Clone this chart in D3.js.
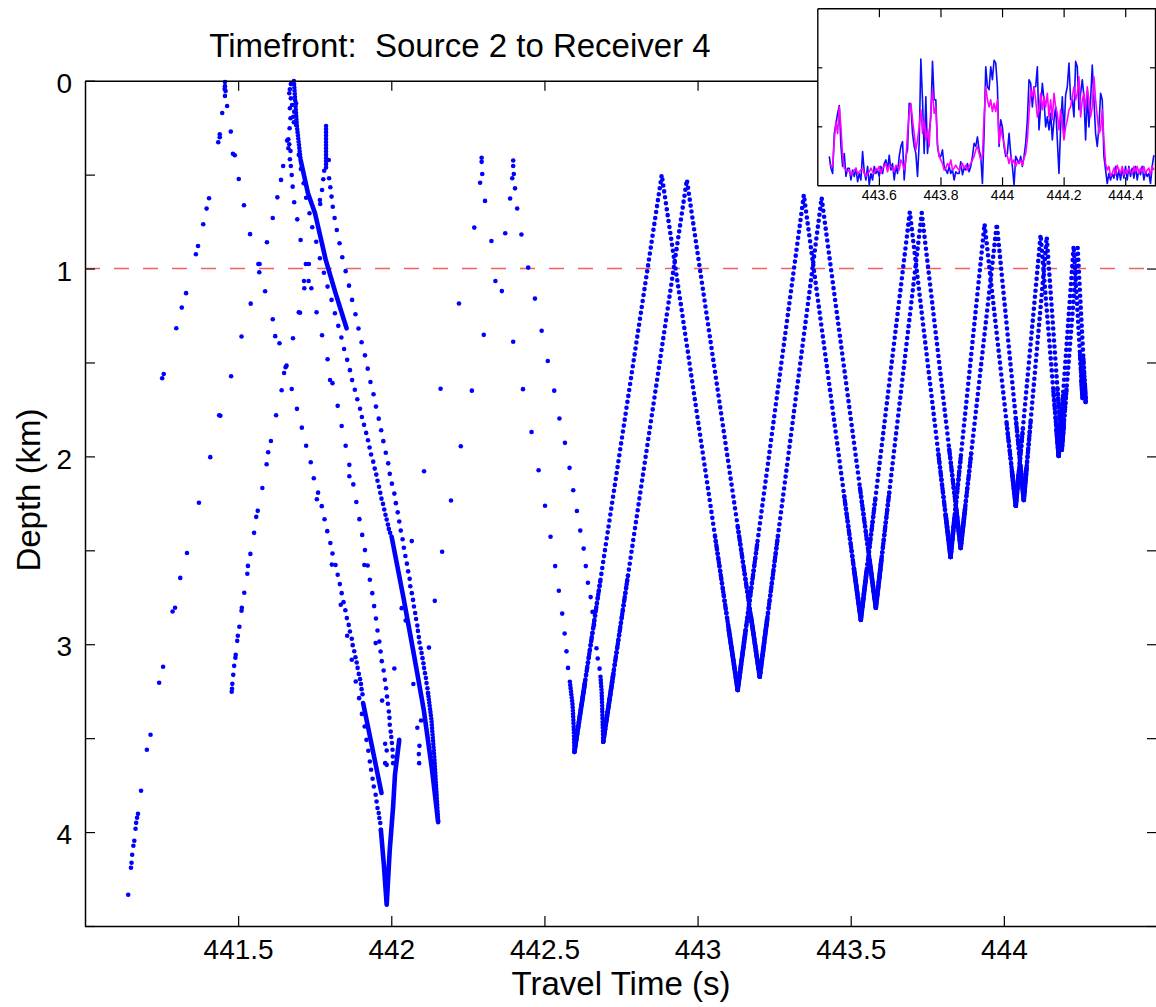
<!DOCTYPE html>
<html>
<head>
<meta charset="utf-8">
<script src="https://cdnjs.cloudflare.com/ajax/libs/d3/7.8.5/d3.min.js"></script>
<style>
  body { margin: 0; background: #fff; }
  text { font-family: "Liberation Sans", Arial, Helvetica, sans-serif; }
</style>
</head>
<body>
<div id="chart"></div>
<script>
// ---------------- data (travel time s, depth km) ----------------
const xTickVals = [441.5, 442, 442.5, 443, 443.5, 444];
const yTickVals = [0, 0.5, 1, 1.5, 2, 2.5, 3, 3.5, 4, 4.5];
const cutDepth = 1;

// isolated arrivals
const topLeftDots = [[441.457,0.007],[441.457,0.029],[441.456,0.044],[441.459,0.055],[441.457,0.081],[441.464,0.135],[441.448,0.172],[441.476,0.271],[441.440,0.285],[441.440,0.301],[441.435,0.328],[441.483,0.389],[441.489,0.397],[441.502,0.523],[441.405,0.626],[441.397,0.681],[441.519,0.663],[441.386,0.764],[441.539,0.817],[441.369,0.880],[441.362,0.924],[441.566,0.976],[441.570,0.976],[441.569,1.020],[441.330,1.131],[441.316,1.208],[441.588,1.121],[441.298,1.318],[441.613,1.270],[441.621,1.360],[441.635,1.398],[441.257,1.561],[441.252,1.584],[441.658,1.517],[441.655,1.525],[441.650,1.556],[441.675,1.641],[441.642,1.648],[441.692,1.747],[441.624,1.781],[441.708,1.847],[441.607,1.918],[441.722,1.943],[441.598,1.978],[441.593,2.042],[441.737,2.031],[441.579,2.168],[441.747,2.116]];
const branchL3 = [[441.672,0.018],[441.647,0.454],[441.640,0.528],[441.628,0.621],[441.613,0.731],[441.594,0.860],[441.541,1.187],[441.511,1.362],[441.477,1.573],[441.438,1.781],[441.442,1.784],[441.409,2.004],[441.372,2.247],[441.333,2.514],[441.311,2.647],[441.294,2.806],[441.286,2.826],[441.255,3.120],[441.242,3.205],[441.214,3.482],[441.202,3.562],[441.183,3.780],[441.173,3.903],[441.170,3.924],[441.167,3.951],[441.165,3.982],[441.161,4.046],[441.158,4.073],[441.154,4.121],[441.152,4.163],[441.150,4.190],[441.141,4.334]];
const branchG = [[441.564,2.290],[441.559,2.322],[441.552,2.407],[441.540,2.519],[441.532,2.583],[441.530,2.625],[441.520,2.726],[441.512,2.806],[441.511,2.822],[441.504,2.907],[441.499,2.955],[441.497,2.982],[441.492,3.056],[441.491,3.072],[441.487,3.115],[441.484,3.163],[441.481,3.211],[441.480,3.237],[441.479,3.253]];
const topCluster = [[441.669,0.046],[441.667,0.067],[441.672,0.094],[441.676,0.129],[441.669,0.147],[441.689,0.120],[441.683,0.165],[441.680,0.192],[441.671,0.200],[441.682,0.221],[441.668,0.253],[441.664,0.312],[441.660,0.319],[441.667,0.338],[441.664,0.360],[441.671,0.374],[441.669,0.418],[441.672,0.454],[441.675,0.502],[441.678,0.564],[441.683,0.647],[441.693,0.738],[441.704,0.848],[441.721,0.976],[441.731,0.976],[441.715,1.066],[441.730,1.066],[441.716,1.105],[441.739,1.105],[441.698,1.233],[441.679,1.371],[441.756,1.233],[441.774,1.355],[441.792,1.483],[441.702,1.235]];
const branchD = [[441.689,0.236],[441.698,0.395],[441.705,0.470],[441.714,0.546],[441.722,0.623],[441.733,0.706],[441.742,0.780],[441.755,0.857],[441.767,0.945],[441.780,1.022],[441.792,1.096],[441.805,1.167],[441.816,1.238],[441.827,1.305],[441.837,1.367],[441.846,1.428],[441.856,1.486],[441.865,1.541],[441.872,1.594],[441.881,1.645],[441.889,1.696],[441.898,1.746],[441.904,1.790],[441.911,1.832],[441.918,1.875],[441.924,1.914],[441.929,1.953],[441.934,1.990],[441.941,2.028],[441.946,2.065],[441.951,2.097],[441.955,2.130],[441.960,2.162],[441.964,2.194],[441.968,2.225],[441.973,2.253],[441.977,2.283],[441.981,2.311],[441.985,2.336],[441.989,2.363],[441.992,2.386],[441.996,2.407]];
const branchB = [[441.796,0.422],[441.797,0.519],[441.801,0.567],[441.805,0.617],[441.809,0.671],[441.815,0.731],[441.822,0.795],[441.831,0.865],[441.840,0.940],[441.851,1.014],[441.862,1.091],[441.872,1.167],[441.883,1.243],[441.893,1.319],[441.903,1.392],[441.914,1.462],[441.923,1.533],[441.932,1.604],[441.942,1.669],[441.950,1.735],[441.959,1.799],[441.967,1.861],[441.974,1.919],[441.982,1.981],[441.990,2.037],[441.995,2.093],[442.002,2.145],[442.010,2.198],[442.015,2.249],[442.021,2.298],[442.026,2.347],[442.031,2.395],[442.037,2.441],[442.041,2.486],[442.046,2.530],[442.051,2.571],[442.055,2.612],[442.060,2.652],[442.062,2.691],[442.067,2.728],[442.071,2.764],[442.074,2.799],[442.078,2.834],[442.081,2.866],[442.085,2.900],[442.087,2.929],[442.090,2.962],[442.092,2.991],[442.096,3.021],[442.099,3.047],[442.102,3.074],[442.105,3.101],[442.107,3.127],[442.110,3.154],[442.113,3.180],[442.115,3.207],[442.118,3.234],[442.120,3.260],[441.781,0.479],[441.778,0.525],[441.774,0.582],[441.767,0.635],[441.768,0.656]];
const branchE = [[441.800,1.593],[441.808,1.610],[441.825,1.731],[441.838,1.838],[441.851,1.943],[441.863,2.045],[441.863,2.106],[441.876,2.149],[441.886,2.243],[441.896,2.334],[441.905,2.418],[441.914,2.499],[441.912,2.578],[441.923,2.581],[441.930,2.657],[441.938,2.728],[441.944,2.797],[441.950,2.863],[441.955,2.927],[441.949,2.994],[441.961,2.986],[441.965,3.039],[441.969,3.090],[441.975,3.140],[441.979,3.189],[441.983,3.234],[441.970,3.300],[441.986,3.278],[441.989,3.317],[441.992,3.358],[441.994,3.392],[441.995,3.429],[441.998,3.465],[442.000,3.494],[442.002,3.526],[442.004,3.562],[442.005,3.598],[442.006,3.633]];
const branchF = [[441.761,2.193],[441.757,2.228],[441.773,2.265],[441.782,2.335],[441.791,2.398],[441.801,2.461],[441.808,2.517],[441.806,2.576],[441.818,2.578],[441.825,2.630],[441.832,2.680],[441.838,2.728],[441.835,2.790],[441.844,2.776],[441.850,2.819],[441.855,2.861],[441.861,2.897],[441.865,2.932],[441.856,2.955],[441.871,2.971],[441.874,3.005],[441.879,3.037],[441.871,3.083],[441.883,3.069],[441.887,3.097],[441.890,3.126],[441.894,3.158],[441.884,3.198],[441.898,3.186],[441.901,3.212],[441.903,3.239],[441.895,3.287],[441.906,3.266]];
const vLeftArm = [[441.904,3.371],[441.913,3.438],[441.919,3.509],[441.925,3.567],[441.930,3.624],[441.934,3.668],[441.939,3.716],[441.943,3.757],[441.949,3.801],[441.952,3.837],[441.955,3.872],[441.959,3.899],[441.961,3.925],[441.964,3.952],[441.966,3.988]];
const strayDots = [[442.090,3.585],[442.091,3.633],[442.092,3.541],[442.085,3.445],[442.097,3.406],[442.123,3.018],[442.142,2.769],[442.166,2.508],[442.195,2.235],[442.107,2.079],[442.072,3.212],[442.067,2.451],[442.047,2.874],[442.034,2.808],[442.010,3.129],[441.980,3.530],[441.985,3.566],[441.985,3.642],[441.980,3.633]];
const peakLeft = [[442.295,0.410],[442.295,0.432],[442.297,0.497],[442.290,0.543],[442.306,0.640],[442.271,0.782],[442.327,0.853],[442.340,1.066],[442.361,1.120],[442.221,1.186],[442.302,1.353],[442.398,1.390],[442.161,1.640],[442.263,1.650],[442.227,1.946]];
const peakRight = [[442.398,0.425],[442.398,0.454],[442.400,0.497],[442.395,0.519],[442.404,0.573],[442.388,0.627],[442.411,0.680],[442.372,0.812],[442.425,0.819],[442.447,0.995],[442.469,1.160],[442.491,1.331],[442.430,1.642],[442.511,1.492],[442.532,1.650],[442.549,1.798],[442.458,1.870],[442.567,1.928],[442.582,2.061],[442.481,2.074],[442.594,2.180],[442.606,2.291],[442.502,2.263],[442.617,2.395],[442.520,2.428],[442.628,2.491],[442.635,2.584],[442.535,2.584],[442.642,2.673],[442.547,2.715],[442.651,2.749],[442.657,2.828],[442.558,2.837],[442.662,2.897],[442.566,2.943],[442.670,3.021],[442.572,3.038],[442.674,3.076],[442.577,3.126],[442.680,3.130]];

// dense runs where the dots merge into a line
const solidRuns = [
  [[441.704,0.422],[441.728,0.599],[441.751,0.706],[441.786,0.954],[441.818,1.131],[441.854,1.318]],
  [[442.001,2.427],[442.039,2.746],[442.074,3.056],[442.106,3.349],[442.133,3.668],[442.153,3.947]],
  [[441.908,3.313],[441.968,3.792]],
  [[441.966,3.988],[441.976,4.179],[441.985,4.387],[441.995,4.094],[442.006,3.864],[442.012,3.695],[442.026,3.509]]
];
const closeRuns = [
  [[441.682,0.002],[441.692,0.245],[441.704,0.422]],
  [[441.787,0.241],[441.787,0.475]],
  [[442.120,3.260],[442.131,3.402],[442.141,3.615],[442.149,3.828],[442.153,3.947]],
  [[442.583,3.200],[442.592,3.325],[442.596,3.456],[442.598,3.573]],
  [[442.683,3.173],[442.687,3.259],[442.692,3.519]]
];
// the two zig-zag timefront branches (turning points)
const zigzagA = [[442.598,3.573],[442.883,0.502],[443.131,3.243],[443.347,0.608],[443.533,2.870],[443.693,0.699],[443.826,2.535],[443.937,0.763],[444.039,2.263],[444.120,0.821],[444.179,1.997],[444.228,0.880],[444.257,1.689]];
const zigzagB = [[442.692,3.519],[442.965,0.528],[443.203,3.173],[443.405,0.624],[443.582,2.806],[443.732,0.704],[443.859,2.487],[443.977,0.763],[444.065,2.232],[444.140,0.832],[444.189,1.965],[444.241,0.890],[444.267,1.710]];

// inset: arrival intensity, sampled evenly from insetStart to insetEnd
const insetStart = 443.439, insetEnd = 444.493;
const insetXTicks = [443.6, 443.8, 444, 444.2, 444.4];
const insetYTicks = [1, 2];
const insetBlue = [.49,.29,.20,.88,1.05,1.22,1.35,.66,.32,.54,
  .15,.29,.29,.09,.26,.15,.29,.06,.20,.09,
  .57,.23,.09,.32,.01,.20,.09,.32,.20,.26,
  .15,.32,.20,.37,.43,.26,.51,.26,.37,.09,
  .32,.20,.49,.66,.74,.09,.49,.60,1.39,1.36,
  .88,.66,.54,.15,.71,2.14,1.45,.54,1.50,.54,
  .88,1.16,2.10,1.45,1.45,.66,.49,.49,.60,.32,
  .26,.20,.32,.20,.26,.09,.23,.20,.20,.40,
  .18,.29,.26,.37,.23,.32,.49,.71,.66,.82,
  .60,.49,.03,.88,2.01,1.67,1.62,2.01,1.79,2.12,
  2.07,1.67,.66,1.11,.99,.66,.49,.54,.88,.54,
  .32,0,.49,.43,.37,.49,.32,.49,.71,1.11,
  1.79,1.73,1.33,1.67,1.67,2.01,.94,1.33,1.73,1.45,
  .99,1.16,.94,1.22,.77,1.11,1.33,.77,.20,.99,
  1.50,.88,1.53,1.67,2.07,1.45,1.45,1.16,2.10,2.01,
  1.28,1.56,1.79,1.50,.77,1.56,.99,1.45,2.04,1.45,
  .88,.66,.99,1.56,1.45,.49,.26,.03,.20,.09,
  .20,.12,.32,.09,.26,.09,.29,.12,.32,.09,
  .32,.15,.29,.12,.32,.09,.26,.18,.32,.09,
  .23,.15,.20,.03,.32,.51];
const insetMagenta = [.37,.34,.32,.77,1.08,.88,1.33,.99,.49,.29,
  .26,.23,.26,.18,.20,.26,.29,.20,.23,.26,
  .29,.20,.15,.20,.23,.29,.23,.20,.29,.26,
  .32,.20,.29,.32,.37,.23,.34,.32,.29,.23,
  .34,.32,.26,.43,.37,.26,.43,.88,1.22,1.39,
  1.11,.88,.60,.77,.99,1.28,.88,1.11,.77,.94,
  .66,1.28,1.62,1.22,1.33,.71,.49,.43,.37,.26,
  .29,.37,.32,.43,.26,.29,.34,.29,.26,.32,
  .37,.29,.34,.26,.32,.37,.43,.49,.60,.66,
  .54,.43,.49,1.16,1.67,1.45,1.33,1.45,1.25,1.39,
  1.25,1.45,.71,.99,.82,.71,.54,.49,.37,.49,
  .37,.43,.32,.40,.37,.43,.34,.46,.54,.77,
  1.22,1.62,1.50,1.67,1.45,1.16,1.28,1.56,1.28,1.50,
  1.33,1.56,1.16,1.45,1.11,1.56,1.33,1.22,.94,1.28,
  1.05,.77,.99,1.11,1.28,1.33,1.50,1.67,1.45,1.56,
  1.84,1.16,1.45,1.56,1.28,1.67,1.45,1.16,1.33,1.84,
  1.45,1.16,.88,.94,1.28,.77,.37,.26,.32,.15,
  .20,.29,.18,.34,.26,.20,.32,.18,.26,.20,
  .29,.23,.20,.32,.23,.32,.20,.29,.23,.32,
  .20,.26,.29,.18,.32,.26];

// ---------------- drawing ----------------
const W = 1156, H = 1007;
const blue = "#0000ff";
const dotR = 2.3;

const svg = d3.select("#chart").append("svg")
  .attr("width", W).attr("height", H)
  .style("background", "#fff");

const x = d3.scaleLinear().domain([441, 444.5]).range([85, 1157]);
const y = d3.scaleLinear().domain([0, 4.5]).range([80.7, 926]);

const line = d3.line().x(d => x(d[0])).y(d => y(d[1]));

// red dashed reference depth
svg.append("line")
  .attr("x1", x(441)).attr("x2", x(444.5))
  .attr("y1", y(cutDepth)).attr("y2", y(cutDepth))
  .attr("stroke", "#f06262").attr("stroke-width", 1.6)
  .attr("stroke-dasharray", "15,14");

const marks = svg.append("g");

// zig-zags: loose dots along the arms, tighter near each trough
function nearTrough(pts, frac) {
  const out = [];
  for (let i = 0; i < pts.length - 1; i++) {
    const a = pts[i], b = pts[i + 1];
    const deep = a[1] > b[1] ? a : b, shallow = a[1] > b[1] ? b : a;
    out.push([deep, [deep[0] + (shallow[0] - deep[0]) * frac, deep[1] + (shallow[1] - deep[1]) * frac]]);
  }
  return out;
}
[zigzagA, zigzagB].forEach(z => {
  marks.append("path").attr("d", line(z))
    .attr("fill", "none").attr("stroke", blue).attr("stroke-width", 2 * dotR)
    .attr("stroke-linecap", "round").attr("stroke-dasharray", "0,6");
  nearTrough(z, 0.3).forEach(seg => marks.append("path").attr("d", line(seg))
    .attr("fill", "none").attr("stroke", blue).attr("stroke-width", 2 * dotR)
    .attr("stroke-linecap", "round").attr("stroke-dasharray", "0,4.3"));
  nearTrough(z, 0.12).forEach(seg => marks.append("path").attr("d", line(seg))
    .attr("fill", "none").attr("stroke", blue).attr("stroke-width", 2 * dotR)
    .attr("stroke-linecap", "round"));
});

closeRuns.forEach(r => marks.append("path").attr("d", line(r))
  .attr("fill", "none").attr("stroke", blue).attr("stroke-width", 2 * dotR)
  .attr("stroke-linecap", "round").attr("stroke-dasharray", "0,3.2"));

solidRuns.forEach(r => marks.append("path").attr("d", line(r))
  .attr("fill", "none").attr("stroke", blue).attr("stroke-width", 2 * dotR)
  .attr("stroke-linecap", "round").attr("stroke-linejoin", "round"));

const allDots = [].concat(topLeftDots, branchL3, branchG, topCluster, branchD,
  branchB, branchE, branchF, vLeftArm, strayDots, peakLeft, peakRight);
marks.selectAll("circle.dot").data(allDots).join("circle")
  .attr("class", "dot")
  .attr("cx", d => x(d[0])).attr("cy", d => y(d[1]))
  .attr("r", dotR).attr("fill", blue);

// axes (ticks point inwards, box on all four sides)
const fmtX = d => String(d);
const fmtY = d => Number.isInteger(d) ? d : "";
const gx = svg.append("g").attr("transform", `translate(0,${y(4.5)})`)
  .call(d3.axisBottom(x).tickValues(xTickVals).tickSize(-10).tickSizeOuter(0).tickPadding(13).tickFormat(fmtX));
const gxt = svg.append("g").attr("transform", `translate(0,${y(0)})`)
  .call(d3.axisTop(x).tickValues(xTickVals).tickSize(-10).tickSizeOuter(0).tickFormat(""));
const gy = svg.append("g").attr("transform", `translate(${x(441)},0)`)
  .call(d3.axisLeft(y).tickValues(yTickVals).tickSize(-10).tickSizeOuter(0).tickPadding(13).tickFormat(fmtY));
const gyr = svg.append("g").attr("transform", `translate(${x(444.5)},0)`)
  .call(d3.axisRight(y).tickValues(yTickVals).tickSize(-10).tickSizeOuter(0).tickFormat(""));
[gx, gxt, gy, gyr].forEach(g => {
  g.select(".domain").attr("stroke", "#000").attr("stroke-width", 1.5);
  g.selectAll(".tick line").attr("stroke", "#000").attr("stroke-width", 1.2);
  g.selectAll(".tick text").attr("fill", "#000").style("font-size", "28px")
    .style("font-family", "'Liberation Sans', Arial, sans-serif");
});
gy.selectAll(".tick text").attr("dy", "0.42em");

svg.append("text").attr("x", 460).attr("y", 57).attr("text-anchor", "middle")
  .style("font-size", "33px").style("white-space", "pre")
  .text("Timefront:  Source 2 to Receiver 4");
svg.append("text").attr("x", 621).attr("y", 995).attr("text-anchor", "middle")
  .style("font-size", "33px").text("Travel Time (s)");
svg.append("text").attr("transform", "translate(40,490) rotate(-90)")
  .attr("text-anchor", "middle").style("font-size", "33px").text("Depth (km)");

// ---------------- inset ----------------
const ix = d3.scaleLinear().domain([443.4, 444.5]).range([817.3, 1156]);
const iy = d3.scaleLinear().domain([0, 3]).range([185.3, 8.3]);
const inset = svg.append("g");
inset.append("rect").attr("x", 817.3).attr("y", 8.3)
  .attr("width", 1156 - 817.3).attr("height", 177).attr("fill", "#fff");

const tStep = (insetEnd - insetStart) / (insetBlue.length - 1);
const iline = d3.line().x((d, i) => ix(insetStart + i * tStep)).y(d => iy(d));
inset.append("path").attr("d", iline(insetBlue))
  .attr("fill", "none").attr("stroke", "#0a0aff").attr("stroke-width", 1.6)
  .attr("stroke-linejoin", "round");
const mStep = (insetEnd - insetStart) / (insetMagenta.length - 1);
const mline = d3.line().x((d, i) => ix(insetStart + i * mStep)).y(d => iy(d));
inset.append("path").attr("d", mline(insetMagenta))
  .attr("fill", "none").attr("stroke", "#ff00ff").attr("stroke-width", 1.6)
  .attr("stroke-linejoin", "round");

const ibx = inset.append("g").attr("transform", "translate(0,185.3)")
  .call(d3.axisBottom(ix).tickValues(insetXTicks).tickSize(-8).tickSizeOuter(0).tickPadding(5).tickFormat(d => String(d)));
const itx = inset.append("g").attr("transform", "translate(0,8.3)")
  .call(d3.axisTop(ix).tickValues(insetXTicks).tickSize(-9).tickSizeOuter(0).tickFormat(""));
const ily = inset.append("g").attr("transform", "translate(817.3,0)")
  .call(d3.axisLeft(iy).tickValues(insetYTicks).tickSize(-5).tickSizeOuter(0).tickFormat(""));
const iry = inset.append("g").attr("transform", "translate(1155,0)")
  .call(d3.axisRight(iy).tickValues(insetYTicks).tickSize(-5).tickSizeOuter(0).tickFormat(""));
[ibx, itx, ily, iry].forEach(g => {
  g.select(".domain").attr("stroke", "#000").attr("stroke-width", 1.4);
  g.selectAll(".tick line").attr("stroke", "#000").attr("stroke-width", 1.2);
  g.selectAll(".tick text").attr("fill", "#000").style("font-size", "14px")
    .style("font-family", "'Liberation Sans', Arial, sans-serif");
});
</script>
</body>
</html>
